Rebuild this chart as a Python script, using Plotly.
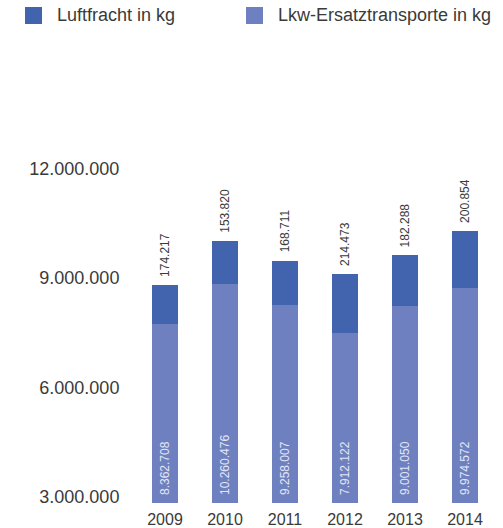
import plotly.graph_objects as go

# ---- data ----
years = ["2009", "2010", "2011", "2012", "2013", "2014"]
# drawn bar heights (as in picture)
lkw_height = [7730000, 8840000, 8250000, 7480000, 8230000, 8730000]
luft_height = [1080000, 1180000, 1220000, 1630000, 1390000, 1560000]
# printed labels
luft_labels = ["174.217", "153.820", "168.711", "214.473", "182.288", "200.854"]
lkw_labels = ["8.362.708", "10.260.476", "9.258.007", "7.912.122", "9.001.050", "9.974.572"]
y_ticks = [3000000, 6000000, 9000000, 12000000]
y_ticktext = ["3.000.000", "6.000.000", "9.000.000", "12.000.000"]
legend_names = ["Luftfracht in kg", "Lkw-Ersatztransporte in kg"]

C_LUFT = "#4263ae"
C_LKW = "#6e80bf"
FONT = "Liberation Sans"
TXT = "#3a3a3a"

W, H = 503, 528
ML, MR, MT, MB = 135, 8, 160, 25
Y_MIN, Y_MAX = 2836000, 12233000

fig = go.Figure()
fig.add_trace(go.Bar(x=years, y=lkw_height, marker=dict(color=C_LKW, line=dict(width=0)),
                     name=legend_names[1], hoverinfo="skip"))
fig.add_trace(go.Bar(x=years, y=luft_height, marker=dict(color=C_LUFT, line=dict(width=0)),
                     name=legend_names[0], hoverinfo="skip"))

annotations = []
for i, (a, b, ta, tb) in enumerate(zip(lkw_height, luft_height, lkw_labels, luft_labels)):
    annotations.append(dict(x=i, y=a + b, xref="x", yref="y", text=tb, textangle=-90,
                            showarrow=False, yanchor="bottom", xanchor="center", yshift=6,
                            font=dict(family=FONT, size=12, color=TXT)))
    annotations.append(dict(x=i, y=Y_MIN, xref="x", yref="y", text=ta, textangle=-90,
                            showarrow=False, yanchor="bottom", xanchor="center", yshift=6,
                            font=dict(family=FONT, size=12, color="#e2e6f5")))

pw, ph = W - ML - MR, H - MT - MB
def px_x(p):
    return (p - ML) / pw
def px_y(p):
    return (H - MB - p) / ph

shapes = []
leg = [(25, legend_names[0], C_LUFT), (246, legend_names[1], C_LKW)]
for x0, name, col in leg:
    shapes.append(dict(type="rect", xref="paper", yref="paper",
                       x0=px_x(x0), x1=px_x(x0 + 17), y0=px_y(24), y1=px_y(7),
                       fillcolor=col, line=dict(width=0)))
    annotations.append(dict(x=px_x(x0 + 30), y=px_y(15), xref="paper", yref="paper",
                            text=name, showarrow=False, xanchor="left", yanchor="middle",
                            font=dict(family=FONT, size=18, color=TXT)))

fig.update_layout(
    width=W, height=H, barmode="stack", bargap=0.583,
    margin=dict(l=ML, r=MR, t=MT, b=MB, autoexpand=False),
    paper_bgcolor="white", plot_bgcolor="white", showlegend=False,
    font=dict(family=FONT, color=TXT),
    xaxis=dict(type="category", showgrid=False, showline=False, zeroline=False,
               automargin=False,
               ticks="outside", ticklen=2, tickcolor="rgba(0,0,0,0)",
               tickfont=dict(family=FONT, size=16, color=TXT)),
    yaxis=dict(range=[Y_MIN, Y_MAX], tickvals=y_ticks, ticktext=y_ticktext,
               showgrid=False, showline=False, zeroline=False, automargin=False,
               ticks="outside", ticklen=11, tickcolor="rgba(0,0,0,0)",
               tickfont=dict(family=FONT, size=18, color=TXT)),
    annotations=annotations, shapes=shapes,
)
fig.write_html("out.html")
